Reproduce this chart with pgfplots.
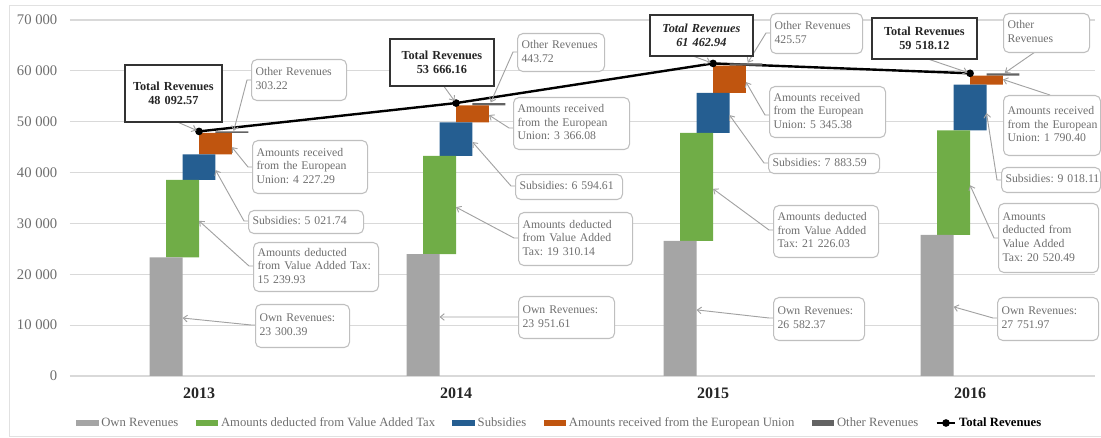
\documentclass[border=0pt]{standalone}
\usepackage{fontspec}
\setmainfont{Liberation Serif}
\usepackage{pgfplots}
\usepackage{pgfplotstable}
\pgfplotsset{compat=1.18}
\usetikzlibrary{arrows.meta}
\definecolor{cOwn}{HTML}{A5A5A5}
\definecolor{cVat}{HTML}{70AD47}
\definecolor{cSub}{HTML}{255E91}
\definecolor{cEU}{HTML}{C0550F}
\definecolor{cOther}{HTML}{636363}
\definecolor{cGrid}{HTML}{D9D9D9}
\definecolor{cTxt}{HTML}{6E6E6E}
\definecolor{cCall}{HTML}{6F6F6F}
\definecolor{cBox}{HTML}{BFBFBF}

\pgfplotstableread{
x own vat sub eu other total
0 23300.39 15239.93 5021.74 4227.29 303.22 48092.57
1 23951.61 19310.14 6594.61 3366.08 443.72 53666.16
2 26582.37 21226.03 7883.59 5345.38 425.57 61462.94
3 27751.97 20520.49 9018.11 1790.40 437.15 59518.12
}\data

\tikzset{
  callout/.style={draw=cBox, line width=0.8pt, rounded corners=4pt, fill=white, text=cCall,
    font=\fontsize{8.8}{10.2}\selectfont, align=left, anchor=north west, inner xsep=3pt, inner ysep=0pt},
  tot/.style={draw=black!80, line width=1.3pt, fill=white, text=black!85,
    font=\fontsize{9.2}{10.5}\selectfont\bfseries, align=center, anchor=north west, inner xsep=2pt, inner ysep=0pt},
  leader/.style={draw=cBox!85!black, line width=0.7pt, -{Straight Barb[length=3pt,width=5pt]}},
}
\pgfplotsset{
  barleg/.style={/pgfplots/legend image code/.code={\fill[##1] (0pt,-2.6pt) rectangle (17pt,2.6pt);}},
}
\newcommand\cbox[5]{%
  \pgfmathsetmacro\tw{#3*0.75-6}%
  \pgfmathsetmacro\mh{#4*0.75}%
  \node[callout, text width=\tw pt, minimum height=\mh pt] at (#1,#2) {\begin{tabular}{@{}l@{}}#5\end{tabular}};}
\newcommand\tbox[5]{%
  \pgfmathsetmacro\tw{#3*0.75-4}%
  \pgfmathsetmacro\mh{#4*0.75}%
  \node[tot, text width=\tw pt, minimum height=\mh pt] at (#1,#2) {#5};}

\begin{document}
\frenchspacing
\begin{tikzpicture}
\begin{axis}[
  at={(0,0)}, anchor=south west,
  scale only axis, width=768.75pt, height=267pt,
  xmin=-0.502, xmax=3.486, ymin=0, ymax=70000,
  ybar stacked, bar width=0.128,
  axis line style={draw=none},
  tick style={draw=none},
  ymajorgrids, grid style={cGrid, line width=0.9pt},
  ytick={0,10000,20000,30000,40000,50000,60000,70000},
  xtick={0,1,2,3}, xticklabels={2013,2014,2015,2016},
  xticklabel style={font=\fontsize{12}{14}\selectfont\bfseries, text=black!85, yshift=-5pt},
  yticklabel style={font=\fontsize{11}{13}\selectfont, text=cTxt, xshift=-6pt},
  scaled y ticks=false,
  /pgf/number format/1000 sep={\ },
  /pgf/number format/assume math mode=true,
  clip=false,
  legend columns=6,
  legend style={at={(0.478,-0.132)}, anchor=center, draw=none, fill=none,
    font=\fontsize{9.5}{11}\selectfont, text=cTxt,
    /tikz/every even column/.append style={column sep=11pt}},
]
\addplot[fill=cOwn, draw=none, bar shift=-0.128, barleg] table[x=x,y=own]{\data};
\addlegendentry{Own Revenues}
\addplot[fill=cVat, draw=none, bar shift=-0.064, barleg] table[x=x,y=vat]{\data};
\addlegendentry{Amounts deducted from Value Added Tax}
\addplot[fill=cSub, draw=none, bar shift=0, barleg] table[x=x,y=sub]{\data};
\addlegendentry{Subsidies}
\addplot[fill=cEU, draw=none, bar shift=0.064, barleg] table[x=x,y=eu]{\data};
\addlegendentry{Amounts received from the European Union}
\addplot[fill=cOther, draw=none, bar shift=0.128, barleg] table[x=x,y=other]{\data};
\addlegendentry{Other Revenues}
\addplot[stack plots=false, sharp plot, black, line width=1.8pt, mark=*, mark size=1.9pt,
  legend image code/.code={\draw[black, line width=1.5pt] (0pt,0pt) -- (14pt,0pt); \fill[black] (7pt,0pt) circle (1.9pt);}]
  table[x=x,y=total]{\data};
\addlegendentry{\textbf{\color{black}Total Revenues}}

\coordinate (a13) at (axis cs:0,48092.57);
\coordinate (b13) at (axis cs:0.135,48200);
\coordinate (c13) at (axis cs:0.128,45000);
\coordinate (d13) at (axis cs:0.064,40500);
\coordinate (e13) at (axis cs:0,30500);
\coordinate (f13) at (axis cs:-0.064,11400);
\coordinate (a14) at (axis cs:1,53666.16);
\coordinate (b14) at (axis cs:1.135,53800);
\coordinate (c14) at (axis cs:1.128,51300);
\coordinate (d14) at (axis cs:1.064,46000);
\coordinate (e14) at (axis cs:1,33200);
\coordinate (f14) at (axis cs:0.936,11600);
\coordinate (a15) at (axis cs:2,61462.94);
\coordinate (b15) at (axis cs:2.135,61600);
\coordinate (c15) at (axis cs:2.128,57800);
\coordinate (d15) at (axis cs:2.064,51300);
\coordinate (e15) at (axis cs:2,36800);
\coordinate (f15) at (axis cs:1.936,13000);
\coordinate (a16) at (axis cs:3,59518.12);
\coordinate (b16) at (axis cs:3.135,59600);
\coordinate (c16) at (axis cs:3.128,58300);
\coordinate (d16) at (axis cs:3.064,51700);
\coordinate (e16) at (axis cs:3,37500);
\coordinate (f16) at (axis cs:2.936,13600);
\end{axis}

\begin{scope}[x={(0.75pt,0)}, y={(0,-0.75pt)}, shift={(-52.5pt,282pt)}]
\path[use as bounding box] (0,0) rectangle (1101,438);
\draw[cGrid!80, line width=0.6pt] (9,436) -- (9,5) -- (1101,5);
\draw[cGrid!80, line width=0.6pt] (9,436) -- (1101,436);
% leaders
\draw[leader, shorten >=2pt] (175,121) -- (a13);
\draw[leader] (251,80) -- ++(-4,0) -- (b13);
\draw[leader] (252,167) -- ++(-4,0) -- (c13);
\draw[leader] (248,221) -- ++(-4,0) -- (d13);
\draw[leader] (253,266) -- ++(-4,0) -- (e13);
\draw[leader] (255,325) -- ++(-4,0) -- (f13);
\draw[leader, shorten >=2pt] (443,85) -- (a14);
\draw[leader] (517,52) -- ++(-4,0) -- (b14);
\draw[leader] (513,128) -- ++(-4,0) -- (c14);
\draw[leader] (515,186) -- ++(-4,0) -- (d14);
\draw[leader] (518,238) -- ++(-4,0) -- (e14);
\draw[leader] (518,317) -- ++(-4,0) -- (f14);
\draw[leader, shorten >=2pt] (690,55) -- (a15);
\draw[leader] (770,33) -- ++(-4,0) -- (b15);
\draw[leader] (769,115) -- ++(-4,0) -- (c15);
\draw[leader] (768,163) -- ++(-4,0) -- (d15);
\draw[leader] (773,230) -- ++(-4,0) -- (e15);
\draw[leader] (773,318) -- ++(-4,0) -- (f15);
\draw[leader, shorten >=2pt] (925,58) -- (a16);
\draw[leader] (1035,52) -- (b16);
\draw[leader] (1050,95) -- (c16);
\draw[leader] (1001,180) -- ++(-4,0) -- (d16);
\draw[leader] (998,238) -- ++(-4,0) -- (e16);
\draw[leader] (997,318) -- ++(-4,0) -- (f16);
% boxes 2013
\tbox{124}{64}{97}{57}{Total Revenues\\48 092.57}
\cbox{251}{59}{95}{41}{Other Revenues\\303.22}
\cbox{252}{140}{115}{53}{Amounts received\\from the European\\Union: 4 227.29}
\cbox{248}{210}{115}{23}{Subsidies: 5 021.74}
\cbox{253}{242}{125}{49}{Amounts deducted\\from Value Added Tax:\\15 239.93}
\cbox{255}{304}{94}{43}{Own Revenues:\\23 300.39}
% 2014
\tbox{389}{38}{104}{47}{Total Revenues\\53 666.16}
\cbox{517}{33}{87}{38}{Other Revenues\\443.72}
\cbox{513}{97}{116}{52}{Amounts received\\from the European\\Union: 3 366.08}
\cbox{515}{174}{107}{25}{Subsidies: 6 594.61}
\cbox{518}{212}{114}{53}{Amounts deducted\\from Value Added\\Tax: 19 310.14}
\cbox{518}{296}{96}{42}{Own Revenues:\\23 951.61}
% 2015
\tbox{649}{14}{103}{41}{\itshape Total Revenues\\\itshape 61 462.94}
\cbox{770}{13}{92}{40}{Other Revenues\\425.57}
\cbox{769}{86}{116}{51}{Amounts received\\from the European\\Union: 5 345.38}
\cbox{768}{153}{111}{20}{Subsidies: 7 883.59}
\cbox{773}{205}{105}{52}{Amounts deducted\\from Value Added\\Tax: 21 226.03}
\cbox{773}{297}{91}{43}{Own Revenues:\\26 582.37}
% 2016
\tbox{871}{17}{105}{41}{Total Revenues\\59 518.12}
\cbox{1003}{13}{86}{39}{Other\\Revenues}
\cbox{1003}{95}{97}{60}{Amounts received\\from the European\\Union: 1 790.40}
\cbox{1001}{167}{99}{25}{Subsidies: 9 018.11}
\cbox{998}{203}{100}{69}{Amounts\\deducted from\\Value Added\\Tax: 20 520.49}
\cbox{997}{297}{101}{43}{Own Revenues:\\27 751.97}
\end{scope}
\end{tikzpicture}
\end{document}
